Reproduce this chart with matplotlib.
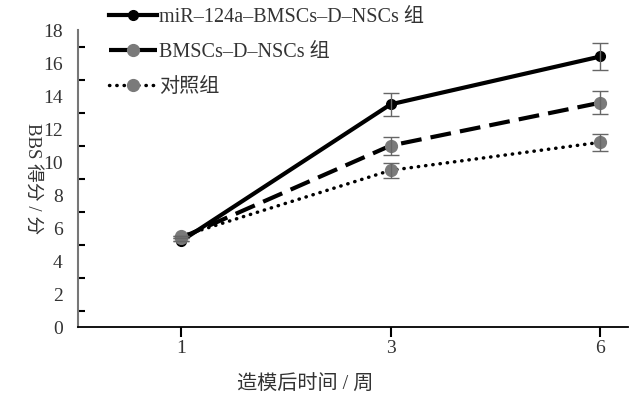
import numpy as np
import matplotlib
matplotlib.use("Agg")
from matplotlib import pyplot as plt

plt.rcParams['font.family'] = ['Liberation Serif', 'Noto Sans CJK SC']

# data
weeks = ['1', '3', '6']
mir = [5.2, 13.5, 16.4]
mir_err = [0, 0.7, 0.8]
bmsc = [5.4, 11.0, 13.6]
bmsc_err = [0, 0.55, 0.7]
ctrl = [5.5, 9.5, 11.2]
ctrl_err = [0, 0.45, 0.5]
labels = ['miR–124a–BMSCs–D–NSCs 组', 'BMSCs–D–NSCs 组', '对照组']

txt = '#333333'
gray = '#7a7a7a'

fig = plt.figure(figsize=(6.34, 3.96), dpi=100)
ax = fig.add_axes([0.123, 0.174, 0.867, 0.75])

x = np.arange(len(weeks))

ax.plot(x, mir, color='black', lw=3, ls='-', marker='o', ms=7,
        mfc='black', mec='black', label=labels[0], zorder=3)
ax.plot(x, bmsc, color='black', lw=3, ls=(0, (5, 2.2)), marker='o', ms=8.5,
        mfc=gray, mec=gray, label=labels[1], zorder=3)
ax.plot(x, ctrl, color='black', lw=2.5, ls=(0, (0.1, 2)), dash_capstyle='round',
        marker='o', ms=8.5, mfc=gray, mec=gray, label=labels[2], zorder=3)

for vals, errs in [(mir, mir_err), (bmsc, bmsc_err), (ctrl, ctrl_err)]:
    ax.errorbar(x, vals, yerr=errs, fmt='none', ecolor='#666666', elinewidth=1,
                capsize=6, capthick=1, zorder=4)

ax.set_xlim(-0.49, 2.13)
ax.set_ylim(0, 18)
ax.set_xticks(x)
ax.set_xticklabels(weeks)
ax.set_yticks(np.arange(0, 19, 2))
ax.set_yticks(np.arange(1, 18, 2), minor=True)
ax.tick_params(axis='y', which='major', length=0, pad=11, labelsize=14, labelcolor=txt)
ax.tick_params(axis='y', which='minor', direction='in', length=5, width=1.5, color='black')
ax.tick_params(axis='x', which='major', direction='out', length=7, width=1.5,
               labelsize=14, labelcolor=txt, pad=2)

for s in ['top', 'right']:
    ax.spines[s].set_visible(False)
ax.spines['left'].set_color('#777777')
ax.spines['left'].set_linewidth(1.5)
ax.spines['bottom'].set_color('black')
ax.spines['bottom'].set_linewidth(1.3)

ax.set_xlabel('造模后时间 / 周', fontsize=14.5, color=txt)
ax.xaxis.set_label_coords(0.413, -0.165)
ax.set_ylabel('BBS 得分 / 分', fontsize=13.5, color=txt, rotation=-90,
              va='center', ha='center')
ax.yaxis.set_label_coords(-0.082, 0.5)

fig.legend(loc='upper left', bbox_to_anchor=(0.172, 0.98), frameon=False,
           fontsize=14.5, handlelength=2.4, handletextpad=0.1, labelspacing=0.78,
           borderpad=0, borderaxespad=0, labelcolor=txt)

fig.savefig('out.png', dpi=100)
